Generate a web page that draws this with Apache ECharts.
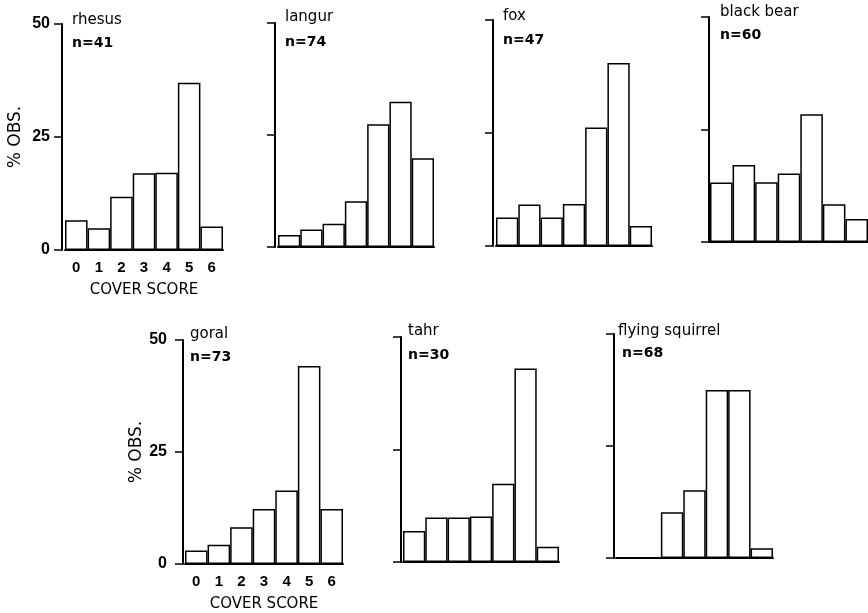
<!DOCTYPE html>
<html>
<head>
<meta charset="utf-8">
<script src="https://cdn.jsdelivr.net/npm/echarts@6/dist/echarts.min.js"></script>
<style>html,body{margin:0;padding:0;background:#fff}#c{width:868px;height:613px}</style>
</head>
<body>
<div id="c"></div>
<script>
// ---- data ----
const categories = ['0', '1', '2', '3', '4', '5', '6'];
const species = ['rhesus', 'langur', 'fox', 'black bear', 'goral', 'tahr', 'flying squirrel'];
const sampleSizes = ['n=41', 'n=74', 'n=47', 'n=60', 'n=73', 'n=30', 'n=68'];
const rhesus = [6.6, 4.8, 11.8, 17.0, 17.1, 37.0, 5.2];
const langur = [2.7, 3.9, 5.2, 10.2, 27.4, 32.4, 19.8];
const fox = [6.3, 9.2, 6.3, 9.3, 26.2, 40.5, 4.4];
const blackBear = [13.2, 17.1, 13.3, 15.2, 28.4, 8.4, 5.1];
const goral = [3.0, 4.3, 8.2, 12.3, 16.4, 44.2, 12.3];
const tahr = [6.9, 9.9, 9.9, 10.1, 17.4, 43.0, 3.4];
const flyingSquirrel = [0, 0, 10.2, 15.1, 37.5, 37.5, 2.2];
const yTicks = { min: 0, max: 50, step: 25 };
const yAxisName = '% OBS.';
const xAxisName = 'COVER SCORE';

const seriesData = [rhesus, langur, fox, blackBear, goral, tahr, flyingSquirrel];

// ---- layout ----
const panels = [
  { left: 65, top: 24, height: 226, width: 158, off: 3, labels: true, lm: 12, tl: 72, tt: 13, nl: 72, nt: 36 },
  { left: 278, top: 23, height: 224, width: 156, off: 3, labels: false, tl: 285, tt: 10, nl: 285, nt: 35 },
  { left: 496, top: 20, height: 226, width: 156, off: 3, labels: false, tl: 503, tt: 9, nl: 503, nt: 33 },
  { left: 710, top: 17, height: 225, width: 158, off: 1, labels: false, tl: 720, tt: 5, nl: 720, nt: 28 },
  { left: 185, top: 340, height: 224, width: 158, off: 2, labels: true, lm: 16, tl: 190, tt: 327, nl: 190, nt: 350 },
  { left: 403, top: 337, height: 225, width: 156, off: 2, labels: false, tl: 408, tt: 324, nl: 408, nt: 348 },
  { left: 616, top: 334, height: 224, width: 157, off: 2, labels: false, tl: 618, tt: 324, nl: 622, nt: 346 }
];

const FONT = '"Liberation Sans", Arial, sans-serif';
const WIDE = '"DejaVu Sans", sans-serif';
const grids = [], xAxes = [], yAxes = [], series = [], titles = [];
panels.forEach((p, i) => {
  grids.push({ left: p.left, top: p.top, width: p.width, height: p.height });
  xAxes.push({
    type: 'category', gridIndex: i, data: categories,
    axisLine: { show: true, lineStyle: { color: '#000', width: 2 } },
    axisTick: { show: false },
    axisLabel: { show: p.labels, color: '#000', fontFamily: FONT, fontWeight: 'bold', fontSize: 15, margin: 10 },
    name: p.labels ? xAxisName : '', nameLocation: 'middle', nameGap: 33,
    nameTextStyle: { color: '#000', fontFamily: WIDE, fontSize: 15 }
  });
  yAxes.push({
    type: 'value', gridIndex: i, min: yTicks.min, max: yTicks.max, interval: yTicks.step,
    offset: p.off,
    splitLine: { show: false },
    axisLine: { show: true, lineStyle: { color: '#000', width: 2 } },
    axisTick: { show: true, inside: false, length: 8, lineStyle: { color: '#000', width: 1.5 } },
    axisLabel: { show: p.labels, color: '#000', fontFamily: FONT, fontWeight: 'bold', fontSize: 16, margin: p.lm || 12 },
    name: p.labels ? yAxisName : '', nameLocation: 'middle', nameGap: 38, nameRotate: 90,
    nameTextStyle: { color: '#000', fontFamily: WIDE, fontSize: 17 }
  });
  series.push({
    type: 'bar', xAxisIndex: i, yAxisIndex: i, data: seriesData[i],
    barCategoryGap: '0%',
    itemStyle: { color: '#fff', borderColor: '#000', borderWidth: 1.5 },
    silent: true, animation: false
  });
  titles.push({ text: species[i], left: p.tl, top: p.tt, padding: 0,
    textStyle: { color: '#000', fontFamily: WIDE, fontWeight: 'normal', fontSize: 15 } });
  titles.push({ text: sampleSizes[i], left: p.nl, top: p.nt, padding: 0,
    textStyle: { color: '#000', fontFamily: WIDE, fontWeight: 'bold', fontSize: 14 } });
});

const chart = echarts.init(document.getElementById('c'), null, { renderer: 'canvas' });
chart.setOption({
  backgroundColor: '#fff',
  animation: false,
  title: titles,
  grid: grids,
  xAxis: xAxes,
  yAxis: yAxes,
  series: series
});
</script>
</body>
</html>
